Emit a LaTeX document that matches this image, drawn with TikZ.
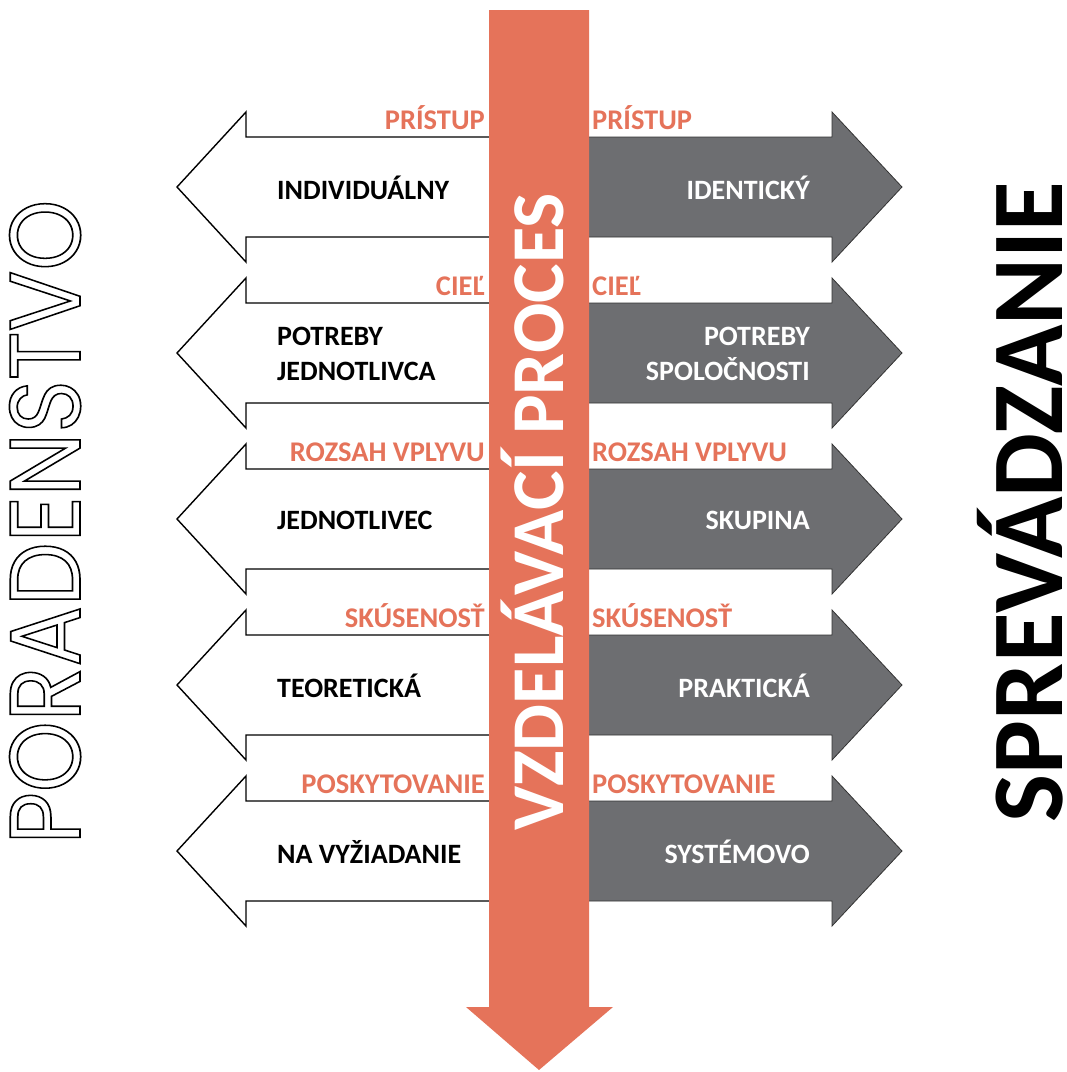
\documentclass[tikz,border=0pt]{standalone}
\usepackage{fontspec}
\setmainfont{Carlito}
\newfontfamily\roundfont{Poppins}
\usetikzlibrary{positioning}

\definecolor{procorange}{HTML}{E5735A}
\definecolor{arrowgray}{HTML}{6D6E71}

\tikzstyle{leftarrow} = [draw=black, fill=white, line width=1.4pt, line join=miter]
\tikzstyle{rightarrow} = [draw=black!80, fill=arrowgray, line width=0.8pt, line join=miter]
\tikzstyle{procarrow} = [fill=procorange]
\tikzstyle{toptag} = [inner sep=0pt, text=procorange, font=\bfseries\fontsize{28.5}{32}\selectfont]
\tikzstyle{lefttext} = [anchor=west, inner sep=0pt, align=left,
  font=\bfseries\fontsize{28}{35}\selectfont]
\tikzstyle{righttext} = [anchor=east, inner sep=0pt, align=right, text=white,
  font=\bfseries\fontsize{28}{35}\selectfont]
\tikzstyle{sidetitle} = [rotate=90, anchor=base, inner sep=0pt, text depth=0pt]

\newcommand{\outlinetext}[1]{\special{pdf:literal direct 1 Tr 1.7 w}#1\special{pdf:literal direct 0 Tr}}

\begin{document}
\begin{tikzpicture}[x=1pt, y=-1pt]
  \useasboundingbox (0,0) rectangle (1067,1072);
  % rows of arrows
  \foreach \i/\tag/\lt/\rt in {0/PRÍSTUP/INDIVIDUÁLNY/IDENTICKÝ,
      1/CIEĽ/{POTREBY\\JEDNOTLIVCA}/{POTREBY\\SPOLOČNOSTI},
      2/ROZSAH VPLYVU/JEDNOTLIVEC/SKUPINA,
      3/SKÚSENOSŤ/TEORETICKÁ/PRAKTICKÁ,
      4/POSKYTOVANIE/NA VYŽIADANIE/SYSTÉMOVO} {
    \pgfmathsetmacro{\cy}{187+166*\i}
    \draw [leftarrow] (540,\cy-50) -- (246,\cy-50) -- (246,\cy-75) -- (177,\cy)
      -- (246,\cy+75) -- (246,\cy+50) -- (540,\cy+50) -- cycle;
    \draw [rightarrow] (540,\cy-50) -- (832,\cy-50) -- (832,\cy-75) -- (902,\cy)
      -- (832,\cy+75) -- (832,\cy+50) -- (540,\cy+50) -- cycle;
    \node (lt\i) [lefttext] at (277,\cy+1) {\lt};
    \node (rt\i) [righttext] at (810,\cy+1) {\rt};
    \node (ltag\i) [toptag, anchor=base east] at (485,\cy-58) {\tag};
    \node (rtag\i) [toptag, anchor=base west] at (592,\cy-58) {\tag};
  }
  % central process arrow
  \fill [procarrow] (489,10) -- (589,10) -- (589,1007) -- (613,1007) -- (539,1070)
    -- (466,1007) -- (489,1007) -- cycle;
  \node (proc) [sidetitle, text=white,
    font=\bfseries\fontsize{74.5}{80}\selectfont] at (563,512) {VZDELÁVACÍ PROCES};
  % side titles
  \node (left) [sidetitle, font=\roundfont\fontsize{100}{110}\selectfont] at (80,522)
    {\scalebox{0.9}[1]{\outlinetext{PORADENSTVO}}};
  \node (right) [sidetitle, font=\bfseries\fontsize{101.5}{110}\selectfont]
    at (1062,502) {SPREVÁDZANIE};
\end{tikzpicture}
\end{document}
